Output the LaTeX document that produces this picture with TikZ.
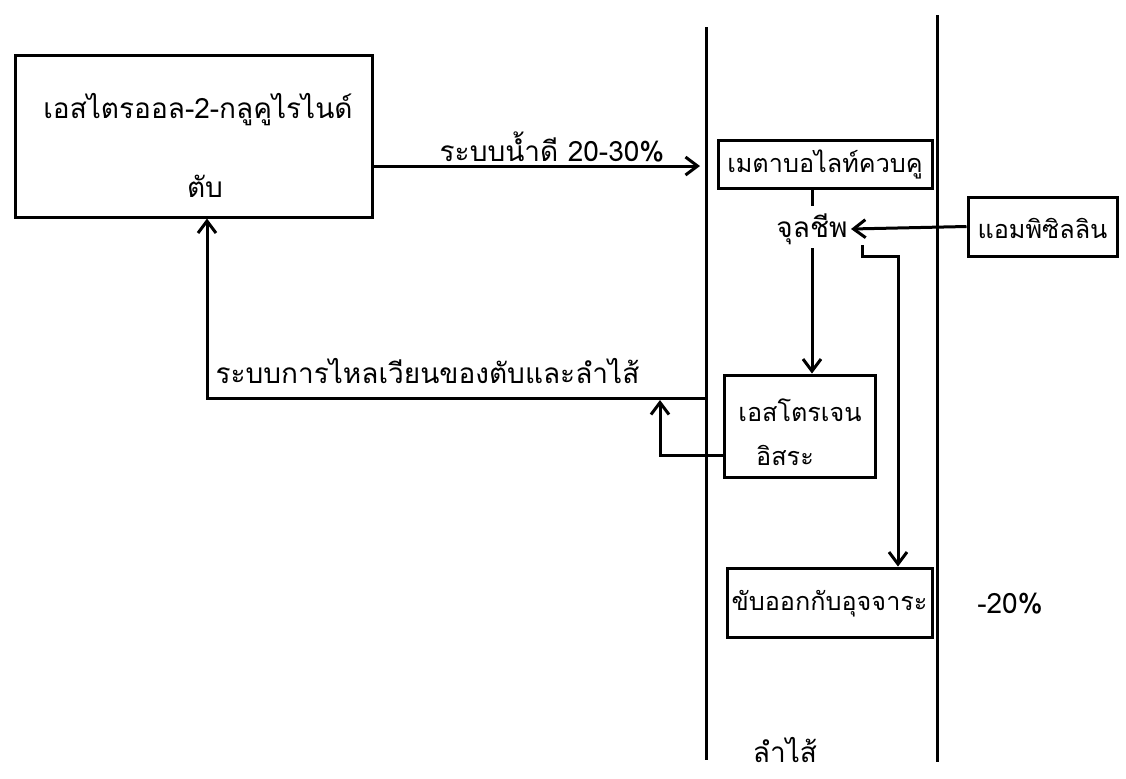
\documentclass[tikz,border=0pt]{standalone}
\usepackage{fontspec}
\newfontfamily\thaifont[Script=Thai]{Loma}
\usetikzlibrary{arrows.meta}
\begin{document}
\begin{tikzpicture}[x=0.5pt, y=-0.5pt, >={Straight Barb[length=6pt, width=9pt]}, line width=1.5pt]
  \tikzset{
    box/.style={draw, line width=1.5pt, inner sep=0pt},
    txt/.style={font=\thaifont\fontsize{14}{16}\selectfont, inner sep=1pt},
    boxtxt/.style={font=\thaifont\fontsize{12.6}{15}\selectfont, inner sep=1pt}
  }
  \useasboundingbox (0,0) rectangle (1126,778);

  % Intestine walls
  \coordinate (gutLtop) at (706,27);
  \coordinate (gutLbot) at (706,760);
  \coordinate (gutRtop) at (937,15);
  \coordinate (gutRbot) at (937,762);
  \draw (gutLtop) -- (gutLbot);
  \draw (gutRtop) -- (gutRbot);

  % Liver
  \node[box, minimum width=178.5pt, minimum height=81pt] (liver) at (193.5,136) {};
  \node[txt] (liverA) at (198,110) {เอสไตรออล-2-กลูคูไรไนด์};
  \node[txt] (liverB) at (205,186) {ตับ};

  % Conjugated metabolite
  \node[box, minimum width=107pt, minimum height=24pt] (metab) at (825,164) {};
  \node[boxtxt] (metabT) at (825,164) {เมตาบอไลท์ควบคู};

  % Bile route
  \coordinate (bileend) at (700,166);
  \draw[->] (liver.east |- bileend) -- (bileend);
  \node[txt] (bileT) at (552,147) {ระบบน้ำดี 20-30\%};

  % Microbes
  \node[txt] (microbe) at (812,229) {จุลชีพ};
  \draw (metab.south -| microbe) -- ++(0,16);

  % Ampicillin
  \node[box, minimum width=74.5pt, minimum height=29.5pt] (amp) at (1042.5,226.5) {};
  \node[boxtxt] (ampT) at (1042.5,228) {แอมพิซิลลิน};
  \draw[->] (amp.west) -- (microbe.east);

  % Free estrogen
  \node[box, minimum width=75.5pt, minimum height=51pt] (estro) at (799.5,426) {};
  \node[boxtxt] (estroA) at (800,410) {เอสโตรเจน};
  \node[boxtxt] (estroB) at (785,455) {อิสระ};
  \draw[->] (microbe.south) -- (microbe.south |- estro.north);

  % Feces
  \node[box, minimum width=102.5pt, minimum height=34.5pt] (feces) at (829.5,602.5) {};
  \node[boxtxt] (fecesT) at (829.5,604) {ขับออกกับอุจจาระ};
  \node[txt] (fecesP) at (1010,604) {-20\%};
  \coordinate (mstart) at (862,245);
  \coordinate (kink) at (898,256);
  \draw[->] (mstart) |- (kink) -- (kink |- feces.north);

  % Enterohepatic circulation
  \coordinate (ret) at (706,398);
  \draw[->] (ret) -| ([xshift=6.75pt]liver.south);
  \node[txt, anchor=west] (retT) at (212,371) {ระบบการไหลเวียนของตับและลำไส้};
  \coordinate (loopup) at (660,400);
  \draw[->] (estro.west |- estroB) -| (loopup);

  % Intestine label
  \node[txt] (gutT) at (785,750) {ลำไส้};
\end{tikzpicture}
\end{document}
